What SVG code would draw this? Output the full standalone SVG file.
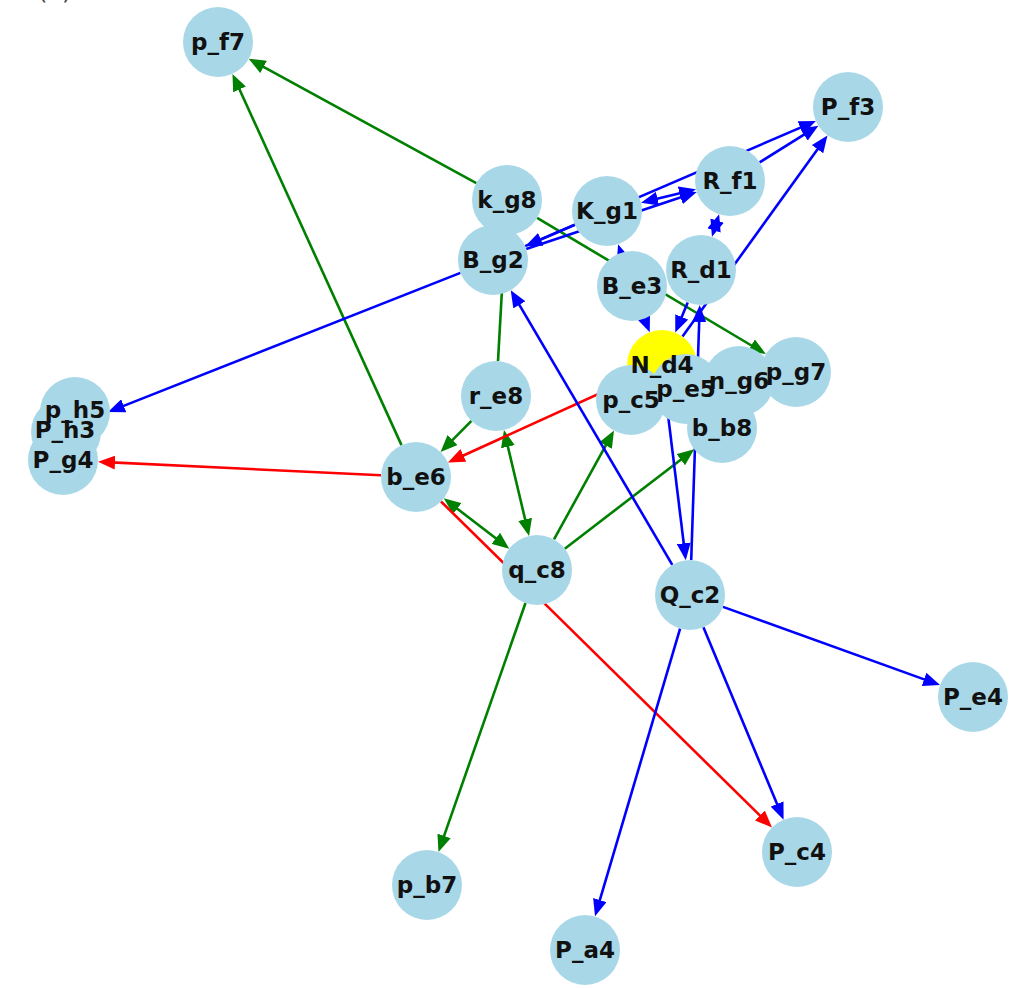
<svg xmlns="http://www.w3.org/2000/svg" width="1024" height="988" viewBox="0 0 1024 988">
<style>
.n{fill:#a8d8e8}
.y{fill:#ffff00}
.t{font-family:"DejaVu Sans",sans-serif;font-weight:bold;font-size:23px;fill:#111;text-anchor:middle;dominant-baseline:central}
.g{stroke:#008000;stroke-width:2.6;fill:none;marker-end:url(#ag)}
.r{stroke:#ff0000;stroke-width:2.6;fill:none;marker-end:url(#ar)}
.b{stroke:#0000ff;stroke-width:2.6;fill:none;marker-end:url(#ab)}
.gg{marker-start:url(#ag)}
.bb{marker-start:url(#ab)}
</style>
<defs>
<marker id="ag" markerUnits="userSpaceOnUse" markerWidth="18" markerHeight="14" refX="9" refY="7" orient="auto-start-reverse"><path d="M0,0 L17,7 L0,14 z" fill="#008000"/></marker>
<marker id="ar" markerUnits="userSpaceOnUse" markerWidth="18" markerHeight="14" refX="9" refY="7" orient="auto-start-reverse"><path d="M0,0 L17,7 L0,14 z" fill="#ff0000"/></marker>
<marker id="ab" markerUnits="userSpaceOnUse" markerWidth="18" markerHeight="14" refX="9" refY="7" orient="auto-start-reverse"><path d="M0,0 L17,7 L0,14 z" fill="#0000ff"/></marker>
</defs>
<rect width="1024" height="988" fill="#ffffff"/>
<text x="38" y="-1" font-family="DejaVu Sans, sans-serif" font-size="24" fill="#444">(a)</text>
<g id="edges">
<line class="g" x1="476.3" y1="183.2" x2="255.7" y2="62.6"/>
<line class="g" x1="401.5" y1="445.1" x2="235.8" y2="81.2"/>
<line class="g" x1="537.1" y1="217.9" x2="759.0" y2="350.0"/>
<line class="g" x1="498" y1="361.1" x2="504.6" y2="242.9"/>
<line class="g" x1="471.4" y1="420.9" x2="446.2" y2="446.4"/>
<line class="g gg" x1="527.2" y1="528.1" x2="505.8" y2="437.9"/>
<line class="g gg" x1="502.9" y1="543.8" x2="450.1" y2="503.2"/>
<line class="r" x1="441" y1="501.5" x2="766.3" y2="821.8"/>
<line class="g" x1="554" y1="539.4" x2="610.1" y2="437.6"/>
<line class="g" x1="564.8" y1="548.7" x2="687.9" y2="454.2"/>
<line class="g" x1="525.5" y1="603" x2="441.1" y2="844.4"/>
<line class="r" x1="630.2" y1="379.5" x2="455.2" y2="459.2"/>
<line class="r" x1="381" y1="475.3" x2="106" y2="462.1"/>
<line class="b" x1="460.4" y1="272.9" x2="115.4" y2="409.1"/>
<line class="b" x1="672.3" y1="564.8" x2="514.8" y2="297.1"/>
<line class="b" x1="723" y1="606.9" x2="932.5" y2="682.4"/>
<line class="b" x1="703.4" y1="627.3" x2="780.5" y2="812.3"/>
<line class="b" x1="680.1" y1="628.6" x2="597.3" y2="908.7"/>
<line class="b" x1="666.2" y1="399.8" x2="684.8" y2="552.2"/>
<line class="b" x1="691.2" y1="560" x2="699.5" y2="313"/>
<line class="b" x1="687.7" y1="302.4" x2="678.3" y2="325.2"/>
<line class="b" x1="682.5" y1="336.6" x2="822.8" y2="141.9"/>
<line class="b" x1="644.4" y1="318.7" x2="646.8" y2="324.8"/>
<line class="b" x1="622.8" y1="258.4" x2="620.6" y2="251.8"/>
<line class="b bb" x1="648.8" y1="200.8" x2="688.2" y2="191.2"/>
<line class="b" x1="574.8" y1="224.8" x2="532.6" y2="243"/>
<line class="b" x1="526.2" y1="248.9" x2="689.2" y2="194.6"/>
<line class="b" x1="525.1" y1="246.1" x2="808.6" y2="124.1"/>
<line class="b" x1="759.6" y1="162.4" x2="811.6" y2="129.9"/>
<line class="b bb" x1="716.7" y1="221.9" x2="714.4" y2="229.1"/>
</g>
<g id="p_f7"><circle class="n" cx="218" cy="42" r="35"/></g>
<g id="P_f3"><circle class="n" cx="848" cy="107" r="35"/></g>
<g id="R_f1"><circle class="n" cx="730" cy="181" r="35"/></g>
<g id="k_g8"><circle class="n" cx="507" cy="200" r="35"/></g>
<g id="K_g1"><circle class="n" cx="607" cy="211" r="35"/></g>
<g id="B_g2"><circle class="n" cx="493" cy="260" r="35"/></g>
<g id="R_d1"><circle class="n" cx="701" cy="270" r="35"/></g>
<g id="B_e3"><circle class="n" cx="632" cy="286" r="35"/></g>
<g id="N_d4"><circle class="y" cx="662" cy="365" r="35"/></g>
<g id="p_c5"><circle class="n" cx="631" cy="400" r="35"/></g>
<g id="p_e5"><circle class="n" cx="686" cy="389" r="35"/></g>
<g id="n_g6"><circle class="n" cx="739" cy="381" r="35"/></g>
<g id="p_g7"><circle class="n" cx="796" cy="372" r="35"/></g>
<g id="b_b8"><circle class="n" cx="722" cy="428" r="35"/></g>
<g id="r_e8"><circle class="n" cx="496" cy="396" r="35"/></g>
<g id="b_e6"><circle class="n" cx="416" cy="477" r="35"/></g>
<g id="p_h5"><circle class="n" cx="75" cy="412" r="35"/></g>
<g id="P_h3"><circle class="n" cx="66" cy="432" r="35"/></g>
<g id="P_g4"><circle class="n" cx="63" cy="460" r="35"/></g>
<g id="q_c8"><circle class="n" cx="537" cy="570" r="35"/></g>
<g id="Q_c2"><circle class="n" cx="690" cy="595" r="35"/></g>
<g id="P_e4"><circle class="n" cx="973" cy="697" r="35"/></g>
<g id="P_c4"><circle class="n" cx="797" cy="852" r="35"/></g>
<g id="p_b7"><circle class="n" cx="427" cy="885" r="35"/></g>
<g id="P_a4"><circle class="n" cx="585" cy="950" r="35"/></g>
<g id="labels">
<text class="t" x="218" y="42">p_f7</text>
<text class="t" x="848" y="107">P_f3</text>
<text class="t" x="730" y="181">R_f1</text>
<text class="t" x="507" y="200">k_g8</text>
<text class="t" x="607" y="211">K_g1</text>
<text class="t" x="493" y="260">B_g2</text>
<text class="t" x="701" y="270">R_d1</text>
<text class="t" x="632" y="286">B_e3</text>
<text class="t" x="662" y="365">N_d4</text>
<text class="t" x="631" y="400">p_c5</text>
<text class="t" x="686" y="389">p_e5</text>
<text class="t" x="739" y="381">n_g6</text>
<text class="t" x="796" y="372">p_g7</text>
<text class="t" x="722" y="428">b_b8</text>
<text class="t" x="496" y="396">r_e8</text>
<text class="t" x="416" y="477">b_e6</text>
<text class="t" x="75" y="410">p_h5</text>
<text class="t" x="65" y="430">P_h3</text>
<text class="t" x="63" y="460">P_g4</text>
<text class="t" x="537" y="570">q_c8</text>
<text class="t" x="690" y="595">Q_c2</text>
<text class="t" x="973" y="697">P_e4</text>
<text class="t" x="797" y="852">P_c4</text>
<text class="t" x="427" y="885">p_b7</text>
<text class="t" x="585" y="950">P_a4</text>
</g>
</svg>
